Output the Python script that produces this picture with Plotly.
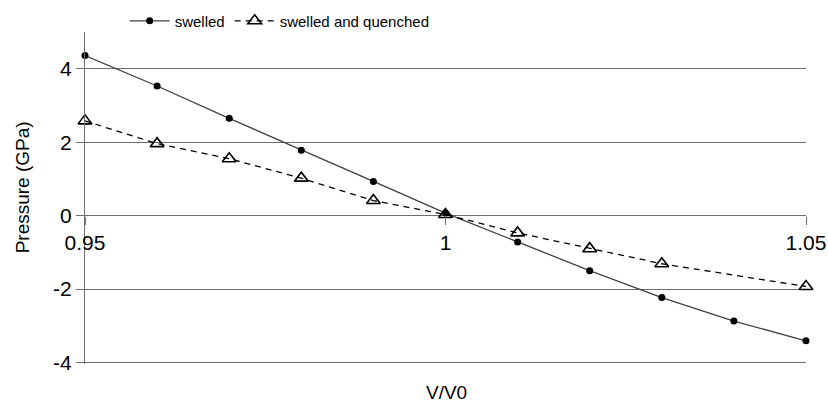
import plotly.graph_objects as go

# Data
v_swelled = [0.95, 0.96, 0.97, 0.98, 0.99, 1.00, 1.01, 1.02, 1.03, 1.04, 1.05]
p_swelled = [4.36, 3.53, 2.65, 1.78, 0.93, 0.07, -0.72, -1.50, -2.23, -2.87, -3.41]

v_quenched = [0.95, 0.96, 0.97, 0.98, 0.99, 1.00, 1.01, 1.02, 1.03, 1.05]
p_quenched = [2.58, 1.96, 1.55, 1.02, 0.41, 0.03, -0.47, -0.90, -1.31, -1.93]

y_ticks = [-4, -2, 0, 2, 4]
y_ticktext = ["-4", "-2", "0", "2", "4"]
x_ticks = [0.95, 1.0, 1.05]
x_ticktext = ["0.95", "1", "1.05"]

FONT = "Liberation Sans, Arial, Helvetica, sans-serif"
GRID = "#6e6e6e"
Y_MIN, Y_MAX = -4.04, 5.0

fig = go.Figure()
fig.add_trace(go.Scatter(
    x=v_swelled, y=p_swelled, name="swelled", mode="lines+markers",
    line=dict(color="#404040", width=1.3),
    marker=dict(symbol="circle", size=7, color="black"),
    cliponaxis=False,
))
fig.add_trace(go.Scatter(
    x=v_quenched, y=p_quenched, name="swelled and quenched", mode="lines+markers",
    line=dict(color="black", width=1.3, dash="6px,5px"),
    marker=dict(symbol="triangle-up-open", size=12, color="black",
                line=dict(width=1.6, color="black")),
    cliponaxis=False,
))

fig.update_layout(
    width=828, height=405,
    margin=dict(l=85, r=22, t=32, b=41, autoexpand=False),
    paper_bgcolor="white", plot_bgcolor="white",
    font=dict(family=FONT, size=16, color="black"),
    showlegend=True,
    legend=dict(orientation="h", x=0.055, xanchor="left",
                yref="container", y=0.948, yanchor="middle",
                font=dict(size=15), bgcolor="rgba(0,0,0,0)", itemwidth=40,
                tracegroupgap=0),
    xaxis=dict(range=[0.95, 1.05], anchor="free",
               position=(0 - Y_MIN) / (Y_MAX - Y_MIN),
               showgrid=False, zeroline=False, showline=False,
               ticks="outside", ticklen=8, tickwidth=1, tickcolor=GRID,
               tickvals=x_ticks, ticktext=x_ticktext, tickfont=dict(size=21)),
    yaxis=dict(range=[Y_MIN, Y_MAX], showgrid=True, gridcolor=GRID, gridwidth=1.3,
               zeroline=False, showline=True, linecolor=GRID, linewidth=1.3,
               ticks="outside", ticklen=8, tickwidth=1, tickcolor=GRID,
               tickvals=y_ticks, ticktext=y_ticktext, tickfont=dict(size=21)),
    annotations=[
        dict(text="V/V0", xref="paper", yref="paper", x=0.5007, y=-0.0846,
             xanchor="center", yanchor="middle", showarrow=False,
             font=dict(size=19)),
        dict(text="Pressure (GPa)", xref="paper", yref="paper", x=-0.0874, y=0.532,
             xanchor="center", yanchor="middle", textangle=-90, showarrow=False,
             font=dict(size=19)),
    ],
)

fig.write_html("out.html")
